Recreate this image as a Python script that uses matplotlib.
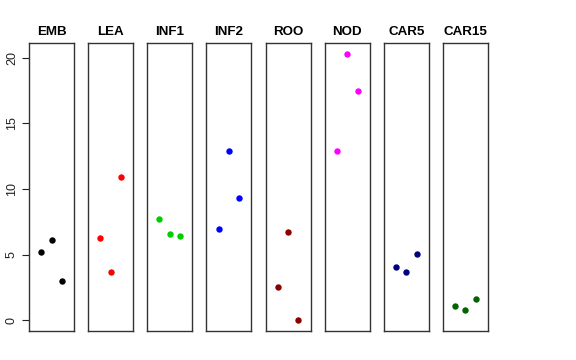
import numpy as np
import matplotlib.pyplot as plt

# ---------------------------------------
# DATA
# ---------------------------------------
tissues = ["EMB", "LEA", "INF1", "INF2", "ROO", "NOD", "CAR5", "CAR15"]
colors = ["black", "red", "#00CD00", "blue", "#8B0000", "magenta", "#000080", "#006400"]
reps = [1, 2, 3]

emb = [5.18, 6.09, 2.99]
lea = [6.24, 3.68, 10.91]
inf1 = [7.74, 6.60, 6.42]
inf2 = [6.98, 12.87, 9.31]
roo = [2.51, 6.70, 0.0]
nod = [12.89, 20.30, 17.49]
car5 = [4.08, 3.70, 5.03]
car15 = [1.07, 0.76, 1.62]

values = [emb, lea, inf1, inf2, roo, nod, car5, car15]
yticks = [0, 5, 10, 15, 20]

# ---------------------------------------
# PLOT
# ---------------------------------------
plt.rcParams["font.family"] = "Liberation Sans"

W, H = 576, 360
fig = plt.figure(figsize=(W / 100, H / 100), dpi=100)

# shared y range, R-style 4% padding
all_vals = np.concatenate([np.array(v) for v in values])
pad = 0.04 * (all_vals.max() - all_vals.min())
ylim = (all_vals.min() - pad, all_vals.max() + pad)

left0, pitch, pw = 29, 59.14, 45
top, bottom = 43, 331

for i, (name, col, vals) in enumerate(zip(tissues, colors, values)):
    x0 = left0 + i * pitch
    ax = fig.add_axes([x0 / W, 1 - bottom / H, pw / W, (bottom - top) / H])
    ax.plot(reps, vals, "o", color=col, markersize=4.6, markeredgewidth=0)
    ax.set_xlim(-0.18, 4.18)
    ax.set_ylim(*ylim)
    ax.set_xticks([])
    ax.set_title(name, fontsize=9.6, weight="bold", pad=6)
    for spine in ax.spines.values():
        spine.set_linewidth(1.0)
        spine.set_color("#333333")
    if i == 0:
        ax.set_yticks(yticks)
        ax.set_yticklabels([str(t) for t in yticks], rotation=90, va="center", fontsize=9)
        ax.tick_params(axis="y", length=5, width=0.8, pad=3, colors="#222222")
    else:
        ax.set_yticks([])

plt.savefig("out.png", dpi=100)
plt.close()
